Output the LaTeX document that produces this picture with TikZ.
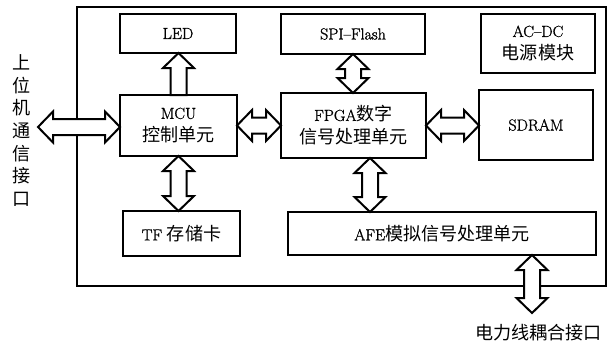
\documentclass[tikz,border=0pt]{standalone}
\usepackage{fontspec}
\setmainfont{Latin Modern Roman}[FakeBold=1.2]
\newfontfamily\cjk{Noto Sans CJK SC}[Scale=1.13]
\usetikzlibrary{calc}
\def\ahw{15.5pt}
\def\asw{8pt}
\def\ahl{15pt}
\newcommand\vdarrow[2]{%
  \path[arr] let \p1=(#1), \p2=(#2) in
  (\x1,\y1) -- (\x1+\ahw,\y1-\ahl) -- (\x1+\asw,\y1-\ahl) -- (\x1+\asw,\y2+\ahl)
  -- (\x1+\ahw,\y2+\ahl) -- (\x1,\y2) -- (\x1-\ahw,\y2+\ahl) -- (\x1-\asw,\y2+\ahl)
  -- (\x1-\asw,\y1-\ahl) -- (\x1-\ahw,\y1-\ahl) -- cycle;}
\newcommand\hdarrow[2]{%
  \path[arr] let \p1=(#1), \p2=(#2) in
  (\x1,\y1) -- (\x1+\ahl,\y1+\ahw) -- (\x1+\ahl,\y1+\asw) -- (\x2-\ahl,\y1+\asw)
  -- (\x2-\ahl,\y1+\ahw) -- (\x2,\y1) -- (\x2-\ahl,\y1-\ahw) -- (\x2-\ahl,\y1-\asw)
  -- (\x1+\ahl,\y1-\asw) -- (\x1+\ahl,\y1-\ahw) -- cycle;}
\newcommand\vuarrow[2]{% from bottom #1 to top #2, head at top
  \path[arr] let \p1=(#1), \p2=(#2) in
  (\x1-\asw,\y1) -- (\x1-\asw,\y2-\ahl) -- (\x1-\ahw,\y2-\ahl) -- (\x1,\y2)
  -- (\x1+\ahw,\y2-\ahl) -- (\x1+\asw,\y2-\ahl) -- (\x1+\asw,\y1) -- cycle;}
\tikzset{
  box/.style={draw, line width=2.4pt, fill=white, inner sep=0pt, outer sep=0pt,
    align=center, font=\fontsize{16}{23}\selectfont},
  arr/.style={draw, line width=2pt, fill=white, line join=miter},
  lbl/.style={inner sep=0pt, align=center, font=\fontsize{16}{22.6}\selectfont\cjk}
}
\begin{document}
\begin{tikzpicture}[x=1pt,y=-1pt]
\useasboundingbox (0,0) rectangle (616,346);
% outer frame
\draw[line width=2.8pt] (77,7) rectangle (606,286);
% boxes
\node[box, minimum width=116, minimum height=39] (led) at (178,33.5) {LED};
\node[box, minimum width=144, minimum height=40] (spi) at (353,34) {SPI--Flash};
\node[box, minimum width=114, minimum height=59] (acdc) at (538,43.5) {AC--DC\\{\cjk 电源模块}};
\node[box, minimum width=117, minimum height=61] (mcu) at (178.5,125.5) {MCU\\{\cjk 控制单元}};
\node[box, minimum width=145, minimum height=65] (fpga) at (353.5,125.5) {FPGA{\cjk 数字}\\{\cjk 信号处理单元}};
\node[box, minimum width=114, minimum height=70] (sdram) at (536,125) {SDRAM};
\node[box, minimum width=117, minimum height=45] (tf) at (181.5,233.5) {TF {\cjk 存储卡}};
\node[box, minimum width=308, minimum height=43] (afe) at (442,233.5) {AFE{\cjk 模拟信号处理单元}};
% labels
\node[lbl] (host) at (22,130.5) {上\\位\\机\\通\\信\\接\\口};
\node[lbl] (plc) at (538.5,333) {电力线耦合接口};
\coordinate (hostend) at (38,127);
\coordinate (plcend) at (532,313);
\coordinate (fa) at ([xshift=16.5]fpga.south);
\coordinate (ap) at (afe.south -| plcend);
% arrows
\hdarrow{hostend}{hostend -| mcu.west}
\vuarrow{mcu.north}{mcu.north |- led.south}
\hdarrow{mcu.east}{mcu.east -| fpga.west}
\vdarrow{mcu.south}{mcu.south |- tf.north}
\vdarrow{spi.south}{spi.south |- fpga.north}
\hdarrow{fpga.east}{fpga.east -| sdram.west}
\vdarrow{fa}{fa |- afe.north}
\vdarrow{ap}{plcend}
\end{tikzpicture}
\end{document}
